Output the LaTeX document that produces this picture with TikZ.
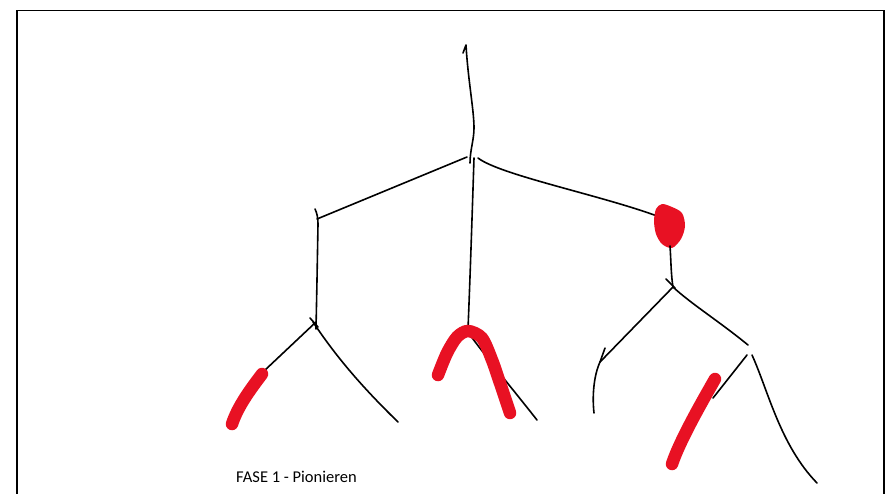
\documentclass[tikz,border=0pt]{standalone}
\usepackage{fontspec}
\setmainfont{Carlito}
\definecolor{marker}{RGB}{232,17,35}
\tikzset{
  ink/.style={line width=1.6pt, line cap=round, line join=round, black},
  redmark/.style={line width=12.5pt, line cap=round, line join=round, marker},
  frameline/.style={line width=1.6pt, black},
}
\begin{document}
\begin{tikzpicture}[x=1pt,y=-1pt]
\useasboundingbox (0,0) rectangle (888,493);
\clip (0,0) rectangle (888,493);
\fill[white] (0,0) rectangle (888,493);
% frame
\draw[frameline] (17,500) -- (17,10.5) -- (884,10.5) -- (884,500);
% named junctions
\coordinate (top) at (466,45);
\coordinate (j0) at (470,163);
\coordinate (jl) at (467,157);
\coordinate (jm) at (474,158);
\coordinate (jr) at (478,158);
\coordinate (L) at (317,219);
\coordinate (Lj) at (316,322);
\coordinate (Mb) at (468,329);
\coordinate (R) at (657,216);
\coordinate (Rj) at (673,287);
\coordinate (RR) at (748,345);
\coordinate (RRj) at (750,355);
% trunk
\draw[ink] (463,53) -- (top) .. controls (468,80) and (474,110) .. (474,128) .. controls (474,140) and (470,150) .. (j0);
% level 1 branches
\draw[ink] (jl) -- (L);
\draw[ink] (jm) .. controls (472,220) and (470,280) .. (Mb);
\draw[ink] (jr) .. controls (500,175) and (600,195) .. (R);
% left subtree
\draw[ink] (315,209) .. controls (317,213) and (318,218) .. (318,224) -- (317,280) -- (316,329);
\draw[ink] (310,318) -- (318,327);
\draw[ink] (Lj) -- (264,371);
\draw[redmark] (262,374) .. controls (250,390) and (238,406) .. (232,424);
\draw[ink] (313,322) .. controls (335,355) and (360,385) .. (398,422);
% middle subtree
\draw[ink] (470,335) .. controls (490,362) and (515,392) .. (537,420);
\draw[redmark] plot[smooth] coordinates {(438,375) (447,353) (457,337) (468,331) (482,338) (492,360) (500,383) (510,413)};
% right subtree
\fill[marker] plot[smooth cycle] coordinates {(656,209) (662,204) (672,207) (682,213) (685,226) (681,239) (672,248) (662,244) (656,234) (654,221)};
\draw[ink] (670,246) .. controls (671,260) and (671,275) .. (Rj);
\draw[ink] (666,279) -- (675,288);
\draw[ink] (Rj) -- (600,362);
\draw[ink] (605,348) -- (600,362) .. controls (594,375) and (592,395) .. (594,413);
\draw[ink] (Rj) .. controls (690,303) and (720,322) .. (RR);
\draw[ink] (747,355) -- (713,398);
\draw[redmark] (715,379) .. controls (703,400) and (680,440) .. (672,464);
\draw[ink] (752,355) .. controls (768,390) and (780,445) .. (817,483);
% caption
\node[anchor=base, inner sep=0pt, font=\fontsize{16.5}{19}\selectfont] (caption) at (296.5,482) {FASE 1 - Pionieren};
\end{tikzpicture}
\end{document}
